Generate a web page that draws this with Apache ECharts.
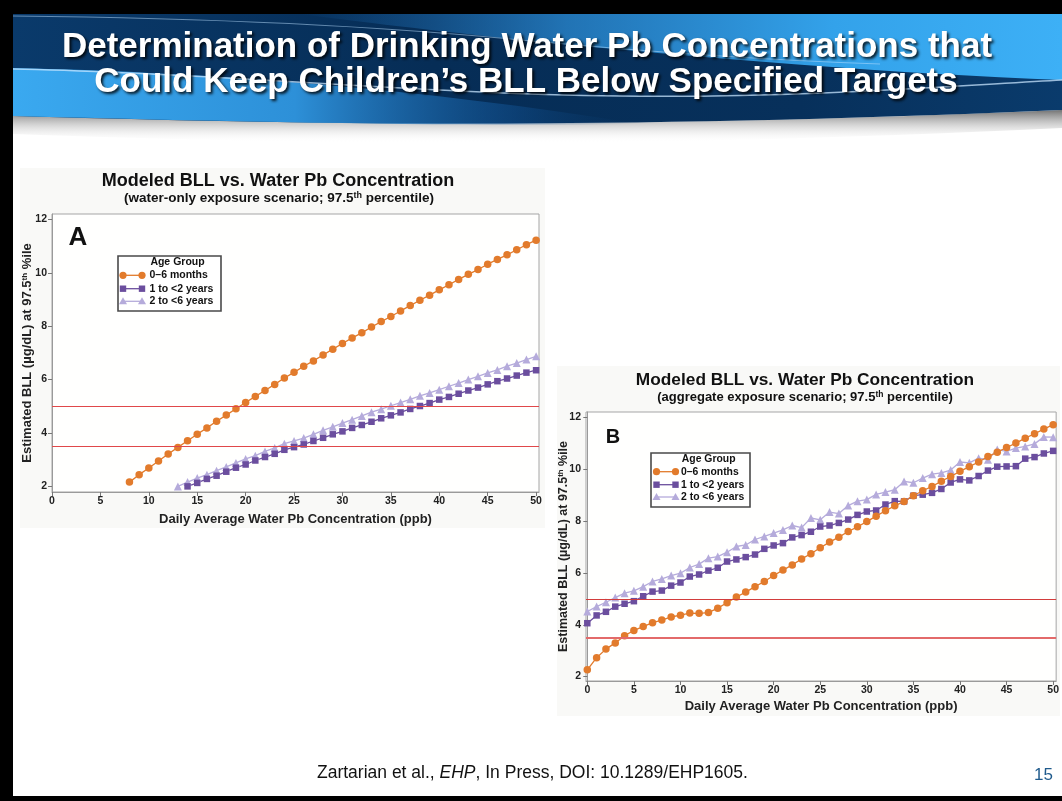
<!DOCTYPE html>
<html><head><meta charset="utf-8">
<script src="https://cdn.jsdelivr.net/npm/echarts@6/dist/echarts.min.js"></script>
<style>html,body{margin:0;padding:0;background:#fff}#c{width:1062px;height:801px}</style>
</head><body><div id="c"></div>
<script>
// ---------- DATA ----------
const slideTitle1 = 'Determination of Drinking Water Pb Concentrations that';
const slideTitle2 = 'Could Keep Children\u2019s BLL Below Specified Targets';
const chartTitle = 'Modeled BLL vs. Water Pb Concentration';
const subtitleA = '(water-only exposure scenario; 97.5{sup|th} percentile)';
const subtitleB = '(aggregate exposure scenario; 97.5{sup|th} percentile)';
const xAxisName = 'Daily Average Water Pb Concentration (ppb)';
const yAxisName = 'Estimated BLL (\u00b5g/dL) at 97.5{sup|th} %ile';
const seriesNames = ['0\u20136 months', '1 to <2 years', '2 to <6 years'];
const legendTitle = 'Age Group';
const footerText = 'Zartarian et al., {i|EHP}, In Press, DOI: 10.1289/EHP1605.';
const pageNumber = '15';
const xTicks = [0, 5, 10, 15, 20, 25, 30, 35, 40, 45, 50];
const yTicks = [2, 4, 6, 8, 10, 12];
const targetLines = [5, 3.5];

// Panel A (water-only)
const xA_infant = [8,9,10,11,12,13,14,15,16,17,18,19,20,21,22,23,24,25,26,27,28,29,30,31,32,33,34,35,36,37,38,39,40,41,42,43,44,45,46,47,48,49,50];
const yA_infant = [2.16,2.44,2.69,2.95,3.21,3.46,3.71,3.95,4.19,4.44,4.67,4.91,5.14,5.37,5.59,5.82,6.06,6.27,6.50,6.70,6.92,7.14,7.35,7.56,7.75,7.97,8.17,8.36,8.57,8.77,8.97,9.16,9.36,9.55,9.75,9.94,10.12,10.32,10.50,10.67,10.86,11.05,11.22];
const xA_toddler = [14,15,16,17,18,19,20,21,22,23,24,25,26,27,28,29,30,31,32,33,34,35,36,37,38,39,40,41,42,43,44,45,46,47,48,49,50];
const yA_toddler = [2.00,2.13,2.28,2.40,2.55,2.70,2.82,2.97,3.10,3.22,3.37,3.47,3.57,3.70,3.82,3.95,4.06,4.19,4.30,4.42,4.55,4.66,4.77,4.90,5.01,5.12,5.25,5.35,5.47,5.59,5.70,5.82,5.94,6.04,6.15,6.26,6.35];
const xA_child = [13,14,15,16,17,18,19,20,21,22,23,24,25,26,27,28,29,30,31,32,33,34,35,36,37,38,39,40,41,42,43,44,45,46,47,48,49,50];
const yA_child = [2.00,2.16,2.31,2.44,2.59,2.73,2.88,3.03,3.15,3.31,3.44,3.60,3.70,3.81,3.95,4.10,4.23,4.37,4.50,4.64,4.78,4.89,5.02,5.14,5.26,5.39,5.50,5.62,5.75,5.87,6.00,6.12,6.25,6.36,6.50,6.62,6.75,6.87];

// Panel B (aggregate)
const xB = [0,1,2,3,4,5,6,7,8,9,10,11,12,13,14,15,16,17,18,19,20,21,22,23,24,25,26,27,28,29,30,31,32,33,34,35,36,37,38,39,40,41,42,43,44,45,46,47,48,49,50];
const yB_infant = [2.26,2.73,3.06,3.30,3.58,3.78,3.93,4.08,4.18,4.30,4.37,4.45,4.44,4.47,4.64,4.85,5.07,5.26,5.47,5.67,5.90,6.11,6.31,6.54,6.74,6.97,7.19,7.38,7.60,7.78,7.98,8.19,8.40,8.59,8.76,8.98,9.17,9.34,9.54,9.72,9.92,10.10,10.28,10.49,10.66,10.84,11.01,11.20,11.37,11.55,11.72];
const yB_toddler = [4.06,4.36,4.50,4.70,4.81,4.91,5.10,5.28,5.32,5.51,5.63,5.86,5.94,6.09,6.20,6.44,6.52,6.61,6.71,6.93,7.06,7.15,7.37,7.46,7.59,7.79,7.83,7.93,8.06,8.24,8.37,8.41,8.64,8.77,8.76,8.98,9.02,9.09,9.24,9.49,9.61,9.57,9.74,9.95,10.10,10.11,10.12,10.41,10.47,10.61,10.71];
const yB_child = [4.51,4.70,4.87,5.05,5.22,5.31,5.47,5.67,5.77,5.90,5.99,6.21,6.34,6.57,6.63,6.80,7.02,7.08,7.29,7.41,7.54,7.66,7.83,7.75,8.12,8.05,8.35,8.29,8.60,8.77,8.83,9.03,9.12,9.21,9.53,9.48,9.66,9.81,9.86,9.97,10.28,10.25,10.43,10.37,10.76,10.69,10.82,10.88,10.98,11.25,11.24];

// ---------- STYLE ----------
const C_ORANGE = '#E27B2C', C_PURPLE = '#6B4E9E', C_LAV = '#B5ABDB';
const FONT = '"Liberation Sans", Arial, Helvetica, sans-serif';
const zip = (xs, ys) => xs.map((x, i) => [x, ys[i]]);

// decorative banner shapes
function regPath(name, d) { echarts.graphic.registerShape(name, echarts.graphic.extendPath(d, {})); }
regPath('bnShadow', 'M13,114 C300,124 600,130 1062,110 L1062,128 C600,150 300,144 13,134 Z');
regPath('bnBase', 'M13,14 L1062,14 L1062,110 C600,130 300,124 13,116 Z');
regPath('bnLow', 'M13,68 C200,72 420,88 640,124 C420,126 250,122 13,116 Z');
regPath('bnUp', 'M300,14 L1062,14 L1062,80 C900,74 700,58 520,40 C430,30 360,22 300,14 Z');
regPath('bnWave1', 'M13,69 C200,72 420,94 620,96 C800,98 950,86 1062,80');
regPath('bnWave2', 'M13,16 C200,18 380,26 520,40 C650,52 760,60 880,64');

const chart = echarts.init(document.getElementById('c'), null, {renderer: 'canvas'});

function xAxisCfg(gi, min, max, gap) {
  return {
    gridIndex: gi, type: 'value', min: min, max: max,
    axisLine: {show: true, lineStyle: {color: '#9a9a9a', width: 1}},
    axisTick: {show: true, length: 4, customValues: xTicks, lineStyle: {color: '#777'}},
    axisLabel: {customValues: xTicks, fontFamily: FONT, fontWeight: 'bold', fontSize: 10.5, color: '#222', margin: 4},
    splitLine: {show: false},
    name: xAxisName, nameLocation: 'middle', nameGap: gap, nameMoveOverlap: false,
    nameTextStyle: {fontFamily: FONT, fontWeight: 'bold', fontSize: 13, color: '#222'}
  };
}
function yAxisCfg(gi, min, max, gap, fs) {
  return {
    gridIndex: gi, type: 'value', min: min, max: max,
    axisLine: {show: true, lineStyle: {color: '#9a9a9a', width: 1}},
    axisTick: {show: true, length: 4, customValues: yTicks, lineStyle: {color: '#777'}},
    axisLabel: {customValues: yTicks, fontFamily: FONT, fontWeight: 'bold', fontSize: 10.5, color: '#222', margin: 5},
    splitLine: {show: false},
    name: yAxisName, nameLocation: 'middle', nameGap: gap, nameRotate: 90, nameMoveOverlap: false,
    nameTextStyle: {fontFamily: FONT, fontWeight: 'bold', fontSize: fs, color: '#222',
      rich: {sup: {fontFamily: FONT, fontWeight: 'bold', fontSize: fs * 0.62, color: '#222', verticalAlign: 'top', lineHeight: fs}}}
  };
}
function refLines(colors, widths) {
  return {
    silent: true, symbol: 'none', label: {show: false},
    data: targetLines.map((v, i) => ({yAxis: v, lineStyle: {color: colors[i], width: widths[i], type: 'solid'}}))
  };
}
function lineSeries(name, gi, data, color, symbol, size, lineColor, extra) {
  return Object.assign({
    name: name, type: 'line', xAxisIndex: gi, yAxisIndex: gi, data: data,
    symbol: symbol, symbolSize: size, showSymbol: true, animation: false,
    lineStyle: {color: lineColor || color, width: 1.3},
    itemStyle: {color: color, borderWidth: 0}
  }, extra || {});
}

// ---------- LEGEND (graphic) ----------
function legend(bx, by, bw, bh, titleX, titleY, sx0, sx1, tx, ys, fs) {
  const els = [{type: 'rect', shape: {x: bx, y: by, width: bw, height: bh},
    style: {fill: '#fff', stroke: '#4a4a4a', lineWidth: 1.6}, z: 20}];
  els.push({type: 'text', x: titleX, y: titleY, z: 21,
    style: {text: legendTitle, font: 'bold ' + fs + 'px ' + FONT, fill: '#111', align: 'center', verticalAlign: 'middle'}});
  const cols = [C_ORANGE, C_PURPLE, C_LAV];
  for (let i = 0; i < 3; i++) {
    const y = ys[i];
    els.push({type: 'line', z: 21, shape: {x1: sx0, y1: y, x2: sx1, y2: y}, style: {stroke: cols[i], lineWidth: 1.3}});
    [sx0, sx1].forEach(px => {
      if (i === 0) els.push({type: 'circle', z: 22, shape: {cx: px, cy: y, r: 3.6}, style: {fill: cols[i]}});
      else if (i === 1) els.push({type: 'rect', z: 22, shape: {x: px - 3.2, y: y - 3.2, width: 6.4, height: 6.4}, style: {fill: cols[i]}});
      else els.push({type: 'polygon', z: 22, shape: {points: [[px, y - 4], [px - 4, y + 3], [px + 4, y + 3]]}, style: {fill: cols[i]}});
    });
    els.push({type: 'text', z: 21, x: tx, y: y,
      style: {text: seriesNames[i], font: 'bold ' + fs + 'px ' + FONT, fill: '#111', align: 'left', verticalAlign: 'middle'}});
  }
  return els;
}

// ---------- BANNER / PAGE (graphic) ----------
const titleStyle = (t) => ({text: t, font: 'bold 35px ' + FONT, fill: '#fff', align: 'center', verticalAlign: 'middle',
  textShadowColor: 'rgba(0,0,0,0.85)', textShadowBlur: 3, textShadowOffsetX: 2, textShadowOffsetY: 2});
const graphics = [
  {type: 'rect', z: -10, shape: {x: 0, y: 0, width: 1062, height: 801}, style: {fill: '#000'}},
  {type: 'rect', z: -9, shape: {x: 13, y: 14, width: 1049, height: 782}, style: {fill: '#fff'}},
  {type: 'bnShadow', z: -8, shape: {},
    style: {fill: new echarts.graphic.LinearGradient(0, 0, 0, 1, [{offset: 0, color: 'rgba(90,90,90,0.85)'}, {offset: 1, color: 'rgba(255,255,255,0)'}])}},
  {type: 'bnBase', z: -7, shape: {},
    style: {fill: new echarts.graphic.LinearGradient(0, 0, 1, 0, [
      {offset: 0, color: '#0a3a6b'}, {offset: 0.4, color: '#062d56'}, {offset: 0.75, color: '#07305b'}, {offset: 1, color: '#0a3b6c'}])}},
  {type: 'bnLow', z: -6, shape: {},
    style: {fill: new echarts.graphic.LinearGradient(0, 0, 1, 0, [
      {offset: 0, color: '#3aa9f0'}, {offset: 0.45, color: '#2d90d8'}, {offset: 0.8, color: 'rgba(20,90,160,0.4)'}, {offset: 1, color: 'rgba(10,60,110,0)'}])}},
  {type: 'bnUp', z: -6, shape: {},
    style: {fill: new echarts.graphic.LinearGradient(0, 0, 1, 0, [
      {offset: 0, color: 'rgba(40,130,210,0)'}, {offset: 0.35, color: 'rgba(45,145,220,0.7)'}, {offset: 0.7, color: '#33a2ea'}, {offset: 1, color: '#3db0f6'}])}},
  {type: 'bnWave1', z: -5, shape: {}, style: {fill: 'none', stroke: 'rgba(200,230,255,0.75)', lineWidth: 1.5}},
  {type: 'bnWave2', z: -5, shape: {}, style: {fill: 'none', stroke: 'rgba(190,225,255,0.5)', lineWidth: 1.2}},
  {type: 'text', z: 5, x: 527, y: 47, style: titleStyle(slideTitle1)},
  {type: 'text', z: 5, x: 526, y: 82, style: titleStyle(slideTitle2)},
  {type: 'rect', z: -4, shape: {x: 20, y: 168, width: 525, height: 360}, style: {fill: '#f9f9f7'}},
  {type: 'rect', z: -4, shape: {x: 557, y: 366, width: 503, height: 350}, style: {fill: '#f9f9f7'}},
  {type: 'text', z: 5, x: 278, y: 181, style: {text: chartTitle, font: 'bold 18px ' + FONT, fill: '#111', align: 'center', verticalAlign: 'middle'}},
  {type: 'text', z: 5, x: 279, y: 198, style: {text: subtitleA, font: 'bold 13.5px ' + FONT, fill: '#111', align: 'center', verticalAlign: 'middle',
    rich: {sup: {font: 'bold 9px ' + FONT, fill: '#111', verticalAlign: 'top', lineHeight: 13}}}},
  {type: 'text', z: 5, x: 805, y: 380, style: {text: chartTitle, font: 'bold 17.3px ' + FONT, fill: '#111', align: 'center', verticalAlign: 'middle'}},
  {type: 'text', z: 5, x: 805, y: 397, style: {text: subtitleB, font: 'bold 13px ' + FONT, fill: '#111', align: 'center', verticalAlign: 'middle',
    rich: {sup: {font: 'bold 8.5px ' + FONT, fill: '#111', verticalAlign: 'top', lineHeight: 13}}}},
  {type: 'text', z: 20, x: 78, y: 238, style: {text: 'A', font: 'bold 26px ' + FONT, fill: '#111', align: 'center', verticalAlign: 'middle'}},
  {type: 'text', z: 20, x: 613, y: 437, style: {text: 'B', font: 'bold 20px ' + FONT, fill: '#111', align: 'center', verticalAlign: 'middle'}},
  {type: 'text', z: 5, x: 317, y: 773, style: {text: footerText, font: '17.5px ' + FONT, fill: '#111', align: 'left', verticalAlign: 'middle',
    rich: {i: {font: 'italic 17.5px ' + FONT, fill: '#111'}}}},
  {type: 'text', z: 5, x: 1053, y: 775, style: {text: pageNumber, font: '17px ' + FONT, fill: '#1f5a8c', align: 'right', verticalAlign: 'middle'}}
].concat(
  legend(118, 256, 103, 55, 177.5, 262.5, 123, 142, 149.5, [275.3, 288.7, 301.3], 10.5),
  legend(651, 453, 99, 54, 708.7, 459.5, 656.5, 675.5, 681, [471.7, 484.7, 497], 10.4)
);

const option = {
  animation: false,
  backgroundColor: 'transparent',
  textStyle: {fontFamily: FONT},
  grid: [
    {left: 52, top: 214, width: 487, height: 278, show: true, borderColor: '#a5a5a5', borderWidth: 1, backgroundColor: '#fffffe', containLabel: false},
    {left: 586, top: 412, width: 471, height: 269, show: true, borderColor: '#a5a5a5', borderWidth: 1, backgroundColor: '#fffffe', containLabel: false}
  ],
  xAxis: [xAxisCfg(0, 0, 50.3, 21), xAxisCfg(1, -0.14, 50.32, 19)],
  yAxis: [yAxisCfg(0, 1.79, 12.2, 18, 13), yAxisCfg(1, 1.83, 12.21, 16, 12.5)],
  series: [
    lineSeries(seriesNames[2], 0, zip(xA_child, yA_child), C_LAV, 'triangle', 8, C_LAV,
      {markLine: refLines(['#e0484a', '#e0484a'], [1.2, 1.2])}),
    lineSeries(seriesNames[1], 0, zip(xA_toddler, yA_toddler), C_PURPLE, 'rect', 6.5),
    lineSeries(seriesNames[0], 0, zip(xA_infant, yA_infant), C_ORANGE, 'circle', 7.5),
    lineSeries(seriesNames[2], 1, zip(xB, yB_child), C_LAV, 'triangle', 8, C_LAV,
      {markLine: refLines(['#d23c3c', '#e36a6a'], [1.2, 2])}),
    lineSeries(seriesNames[1], 1, zip(xB, yB_toddler), C_PURPLE, 'rect', 6.5),
    lineSeries(seriesNames[0], 1, zip(xB, yB_infant), C_ORANGE, 'circle', 7.5)
  ],
  graphic: graphics
};
chart.setOption(option);
</script></body></html>
